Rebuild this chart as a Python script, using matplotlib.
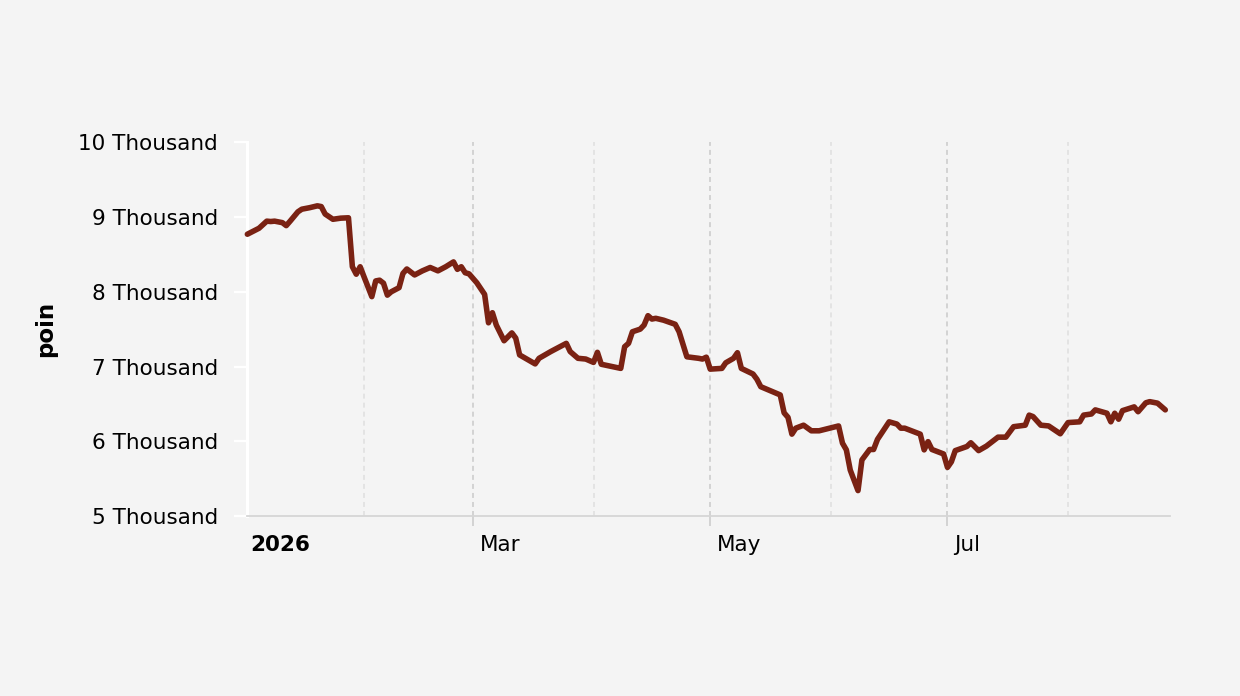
import matplotlib
matplotlib.use("Agg")
import matplotlib.pyplot as plt
import matplotlib.dates as mdates
import matplotlib.transforms as mtransforms
import pandas as pd

# ---------------- data ----------------
dates = [
    "2026-01-02", "2026-01-05", "2026-01-07", "2026-01-08", "2026-01-09", "2026-01-11",
    "2026-01-12", "2026-01-13", "2026-01-15", "2026-01-16", "2026-01-18", "2026-01-20",
    "2026-01-21", "2026-01-22", "2026-01-23", "2026-01-24", "2026-01-26", "2026-01-28",
    "2026-01-29", "2026-01-30", "2026-01-31", "2026-02-01", "2026-02-03", "2026-02-04",
    "2026-02-05", "2026-02-06", "2026-02-07", "2026-02-08", "2026-02-10", "2026-02-11",
    "2026-02-12", "2026-02-14", "2026-02-16", "2026-02-18", "2026-02-20", "2026-02-22",
    "2026-02-24", "2026-02-25", "2026-02-26", "2026-02-27", "2026-02-28", "2026-03-02",
    "2026-03-04", "2026-03-05", "2026-03-06", "2026-03-07", "2026-03-09", "2026-03-11",
    "2026-03-12", "2026-03-13", "2026-03-17", "2026-03-18", "2026-03-21", "2026-03-25",
    "2026-03-26", "2026-03-28", "2026-03-30", "2026-04-01", "2026-04-02", "2026-04-03",
    "2026-04-08", "2026-04-09", "2026-04-10", "2026-04-11", "2026-04-13", "2026-04-14",
    "2026-04-15", "2026-04-16", "2026-04-17", "2026-04-19", "2026-04-22", "2026-04-23",
    "2026-04-25", "2026-04-28", "2026-04-29", "2026-04-30", "2026-05-01", "2026-05-04",
    "2026-05-05", "2026-05-07", "2026-05-08", "2026-05-09", "2026-05-12", "2026-05-13",
    "2026-05-14", "2026-05-19", "2026-05-20", "2026-05-21", "2026-05-22", "2026-05-23",
    "2026-05-25", "2026-05-27", "2026-05-29", "2026-06-03", "2026-06-04", "2026-06-05",
    "2026-06-06", "2026-06-08", "2026-06-09", "2026-06-11", "2026-06-12", "2026-06-13",
    "2026-06-16", "2026-06-18", "2026-06-19", "2026-06-20", "2026-06-24", "2026-06-25",
    "2026-06-26", "2026-06-27", "2026-06-30", "2026-07-01", "2026-07-02", "2026-07-03",
    "2026-07-06", "2026-07-07", "2026-07-09", "2026-07-11", "2026-07-14", "2026-07-16",
    "2026-07-18", "2026-07-21", "2026-07-22", "2026-07-23", "2026-07-25", "2026-07-27",
    "2026-07-30", "2026-08-01", "2026-08-04", "2026-08-05", "2026-08-07", "2026-08-08",
    "2026-08-11", "2026-08-12", "2026-08-13", "2026-08-14", "2026-08-15", "2026-08-18",
    "2026-08-19", "2026-08-21", "2026-08-22", "2026-08-24", "2026-08-26",
]
values = [
    8770, 8850, 8945, 8940, 8945, 8925,
    8885, 8945, 9070, 9105, 9125, 9150,
    9140, 9040, 9005, 8970, 8985, 8990,
    8335, 8235, 8335, 8200, 7935, 8145,
    8155, 8115, 7955, 8000, 8055, 8245,
    8305, 8225, 8280, 8325, 8280, 8335,
    8400, 8300, 8335, 8255, 8240, 8120,
    7965, 7585, 7720, 7555, 7345, 7450,
    7380, 7155, 7035, 7110, 7200, 7310,
    7200, 7110, 7100, 7055, 7190, 7030,
    6975, 7265, 7310, 7465, 7500, 7555,
    7680, 7635, 7645, 7620, 7565, 7465,
    7130, 7110, 7100, 7125, 6965, 6975,
    7050, 7110, 7185, 6975, 6900, 6830,
    6730, 6620, 6380, 6320, 6095, 6175,
    6215, 6140, 6140, 6205, 5975, 5885,
    5615, 5340, 5750, 5890, 5890, 6025,
    6260, 6230, 6175, 6175, 6095, 5885,
    5995, 5890, 5830, 5650, 5725, 5875,
    5930, 5980, 5875, 5935, 6055, 6055,
    6195, 6215, 6350, 6330, 6215, 6205,
    6100, 6250, 6260, 6350, 6365, 6420,
    6375, 6260, 6375, 6295, 6410, 6460,
    6395, 6515, 6530, 6510, 6420,
]

y_ticks = [5000, 6000, 7000, 8000, 9000, 10000]
y_tick_labels = ["5 Thousand", "6 Thousand", "7 Thousand", "8 Thousand",
                 "9 Thousand", "10 Thousand"]
x_major_ticks = ["2026-03-01", "2026-05-01", "2026-07-01"]
x_major_labels = ["Mar", "May", "Jul"]
x_minor_ticks = ["2026-02-01", "2026-04-01", "2026-06-01", "2026-08-01"]
year_tick = "2026-01-01"
year_label = "2026"
y_title = "poin"
x_range = ["2026-01-01 20:00", "2026-08-27 05:00"]

# ---------------- style ----------------
BG = "#f4f4f4"
LINE = "#7a2213"
plt.rcParams["font.family"] = ["DejaVu Sans"]
plt.rcParams["lines.scale_dashes"] = False

x = pd.to_datetime(dates)

fig = plt.figure(figsize=(12.4, 6.96), dpi=100, facecolor=BG)
W, H = 1240, 696
left, right, top, bottom = 246.7, 1170, 142.3, 516
ax = fig.add_axes([left / W, 1 - bottom / H, (right - left) / W, (bottom - top) / H])
ax.set_facecolor(BG)

ax.plot(x, values, color=LINE, lw=4.0, solid_joinstyle="round",
        solid_capstyle="round", zorder=3, clip_on=False)

ax.set_xlim(pd.to_datetime(x_range[0]), pd.to_datetime(x_range[1]))
ax.set_ylim(5000, 10000)

# y axis
ax.set_yticks(y_ticks)
ax.set_yticklabels(y_tick_labels)
ax.tick_params(axis="y", colors="white", length=9.5, width=1.6, pad=11,
               labelsize=15.5, labelcolor="black")

# x axis
maj = pd.to_datetime(x_major_ticks)
mnr = pd.to_datetime(x_minor_ticks)
ax.set_xticks(maj)
ax.set_xticklabels(x_major_labels)
ax.set_xticks(mnr, minor=True)
ax.tick_params(axis="x", which="major", colors="#d0d0d0", length=7, width=1.3,
               pad=7, labelsize=15.5, labelcolor="black")
ax.tick_params(axis="x", which="minor", length=0)
offset = mtransforms.ScaledTranslation(6.7 / 100, 0, fig.dpi_scale_trans)
for lab in ax.get_xticklabels():
    lab.set_horizontalalignment("left")
    lab.set_transform(lab.get_transform() + offset)

# year label at Jan 1 (bold)
ax.text(pd.Timestamp(year_tick), -0.05, year_label,
        transform=mtransforms.blended_transform_factory(ax.transData, ax.transAxes) + offset,
        ha="left", va="top", fontsize=15.5, fontweight="bold", color="black")

# grid lines
ax.grid(False)
for d in maj:
    ax.axvline(d, color="#d0d0d0", lw=1.3, dashes=(3.6, 2.9), zorder=1)
for d in mnr:
    ax.axvline(d, color="#e2e2e2", lw=1.3, dashes=(3.6, 2.9), zorder=1)

# spines
for s in ["top", "right"]:
    ax.spines[s].set_visible(False)
ax.spines["left"].set_color("white")
ax.spines["left"].set_linewidth(2.2)
ax.spines["bottom"].set_color("#d6d6d6")
ax.spines["bottom"].set_linewidth(1.3)

# y title
ax.set_ylabel(y_title, fontsize=16.5, fontweight="bold", color="black")
ax.yaxis.set_label_coords((57 - left) / (right - left), 0.5)

fig.savefig("out.png", dpi=100, facecolor=BG)
